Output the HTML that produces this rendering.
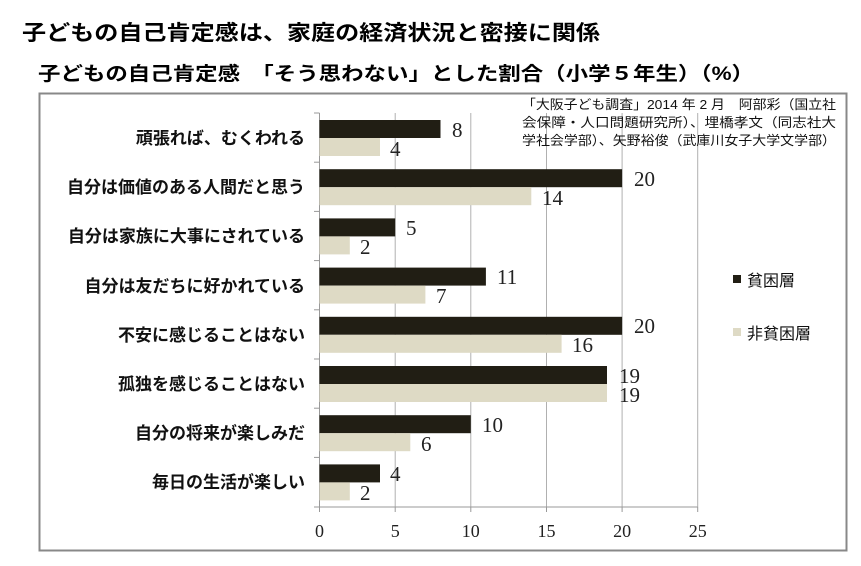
<!DOCTYPE html>
<html><head><meta charset="utf-8"><style>
body{margin:0;background:#fff;}
</style></head><body>
<svg width="861" height="566" xmlns="http://www.w3.org/2000/svg" style="display:block">
<rect width="861" height="566" fill="#fff"/>
<g font-family="'Liberation Sans','Noto Sans CJK JP',sans-serif" font-weight="bold" fill="#000">
<text x="22" y="40" font-size="21" textLength="578" lengthAdjust="spacingAndGlyphs">子どもの自己肯定感は、家庭の経済状況と密接に関係</text>
<text x="38" y="80" font-size="19" textLength="716" lengthAdjust="spacingAndGlyphs">子どもの自己肯定感　「そう思わない」とした割合（小学５年生）（%）</text>
</g>
<rect x="39.5" y="93.5" width="807" height="457" fill="none" stroke="#888" stroke-width="2"/>
<g stroke="#b0b0b0" stroke-width="1">
<line x1="395.2" y1="113" x2="395.2" y2="507"/>
<line x1="470.8" y1="113" x2="470.8" y2="507"/>
<line x1="546.5" y1="113" x2="546.5" y2="507"/>
<line x1="622.1" y1="113" x2="622.1" y2="507"/>
<line x1="697.7" y1="113" x2="697.7" y2="507"/>
</g>
<g stroke="#999" stroke-width="1">
<line x1="319.5" y1="113" x2="319.5" y2="507"/>
<line x1="319.5" y1="507" x2="697.7" y2="507"/>
<line x1="314" y1="113" x2="319.5" y2="113"/>
<line x1="314" y1="162.2" x2="319.5" y2="162.2"/>
<line x1="314" y1="211.4" x2="319.5" y2="211.4"/>
<line x1="314" y1="260.6" x2="319.5" y2="260.6"/>
<line x1="314" y1="309.8" x2="319.5" y2="309.8"/>
<line x1="314" y1="359" x2="319.5" y2="359"/>
<line x1="314" y1="408.2" x2="319.5" y2="408.2"/>
<line x1="314" y1="457.4" x2="319.5" y2="457.4"/>
<line x1="314" y1="507" x2="319.5" y2="507"/>
<line x1="319.5" y1="507" x2="319.5" y2="512"/>
<line x1="395.2" y1="507" x2="395.2" y2="512"/>
<line x1="470.8" y1="507" x2="470.8" y2="512"/>
<line x1="546.5" y1="507" x2="546.5" y2="512"/>
<line x1="622.1" y1="507" x2="622.1" y2="512"/>
<line x1="697.7" y1="507" x2="697.7" y2="512"/>
</g>
<g fill="#211e14">
<rect x="319.5" y="120" width="121" height="18"/>
<rect x="319.5" y="169.2" width="302.6" height="18"/>
<rect x="319.5" y="218.4" width="75.7" height="18"/>
<rect x="319.5" y="267.6" width="166.4" height="18"/>
<rect x="319.5" y="316.8" width="302.6" height="18"/>
<rect x="319.5" y="366" width="287.5" height="18"/>
<rect x="319.5" y="415.2" width="151.3" height="18"/>
<rect x="319.5" y="464.4" width="60.5" height="18"/>
</g>
<g fill="#dedac5">
<rect x="319.5" y="138" width="60.5" height="18"/>
<rect x="319.5" y="187.2" width="211.8" height="18"/>
<rect x="319.5" y="236.4" width="30.3" height="18"/>
<rect x="319.5" y="285.6" width="105.9" height="18"/>
<rect x="319.5" y="334.8" width="242.1" height="18"/>
<rect x="319.5" y="384" width="287.5" height="18"/>
<rect x="319.5" y="433.2" width="90.8" height="18"/>
<rect x="319.5" y="482.4" width="30.3" height="18"/>
</g>
<g font-family="'Liberation Serif','DejaVu Serif',serif" font-size="21" fill="#222">
<text x="452" y="137">8</text><text x="390" y="156">4</text>
<text x="634" y="186">20</text><text x="542" y="205">14</text>
<text x="406" y="235">5</text><text x="360" y="254">2</text>
<text x="497" y="284">11</text><text x="436" y="303">7</text>
<text x="634" y="333">20</text><text x="572" y="352">16</text>
<text x="619" y="383">19</text><text x="619" y="402">19</text>
<text x="482" y="432">10</text><text x="421" y="451">6</text>
<text x="390" y="481">4</text><text x="360" y="500">2</text>
</g>
<g font-family="'Liberation Serif','DejaVu Serif',serif" font-size="18" fill="#222" text-anchor="middle">
<text x="319.5" y="537">0</text><text x="395.2" y="537">5</text><text x="470.8" y="537">10</text>
<text x="546.5" y="537">15</text><text x="622.1" y="537">20</text><text x="697.7" y="537">25</text>
</g>
<g font-family="'Liberation Sans','Noto Sans CJK JP',sans-serif" font-size="17" font-weight="bold" fill="#111" text-anchor="end">
<text x="305" y="144">頑張れば、むくわれる</text>
<text x="305" y="193">自分は価値のある人間だと思う</text>
<text x="305" y="242">自分は家族に大事にされている</text>
<text x="305" y="292">自分は友だちに好かれている</text>
<text x="305" y="341">不安に感じることはない</text>
<text x="305" y="390">孤独を感じることはない</text>
<text x="305" y="439">自分の将来が楽しみだ</text>
<text x="305" y="488">毎日の生活が楽しい</text>
</g>
<g font-family="'Liberation Sans','Noto Sans CJK JP',sans-serif" font-size="13" fill="#111">
<text x="522" y="109" textLength="314" lengthAdjust="spacingAndGlyphs">「大阪子ども調査」2014 年 2 月　阿部彩（国立社</text>
<text x="522" y="127" textLength="314" lengthAdjust="spacingAndGlyphs">会保障・人口問題研究所）、埋橋孝文（同志社大</text>
<text x="522" y="145" textLength="314" lengthAdjust="spacingAndGlyphs">学社会学部）、矢野裕俊（武庫川女子大学文学部）</text>
</g>
<rect x="733" y="275" width="8" height="8" fill="#211e14"/>
<rect x="733" y="328" width="8" height="8" fill="#dedac5"/>
<g font-family="'Liberation Sans','Noto Sans CJK JP',sans-serif" font-size="16" fill="#111">
<text x="747" y="286">貧困層</text>
<text x="747" y="339">非貧困層</text>
</g>
</svg>
</body></html>
